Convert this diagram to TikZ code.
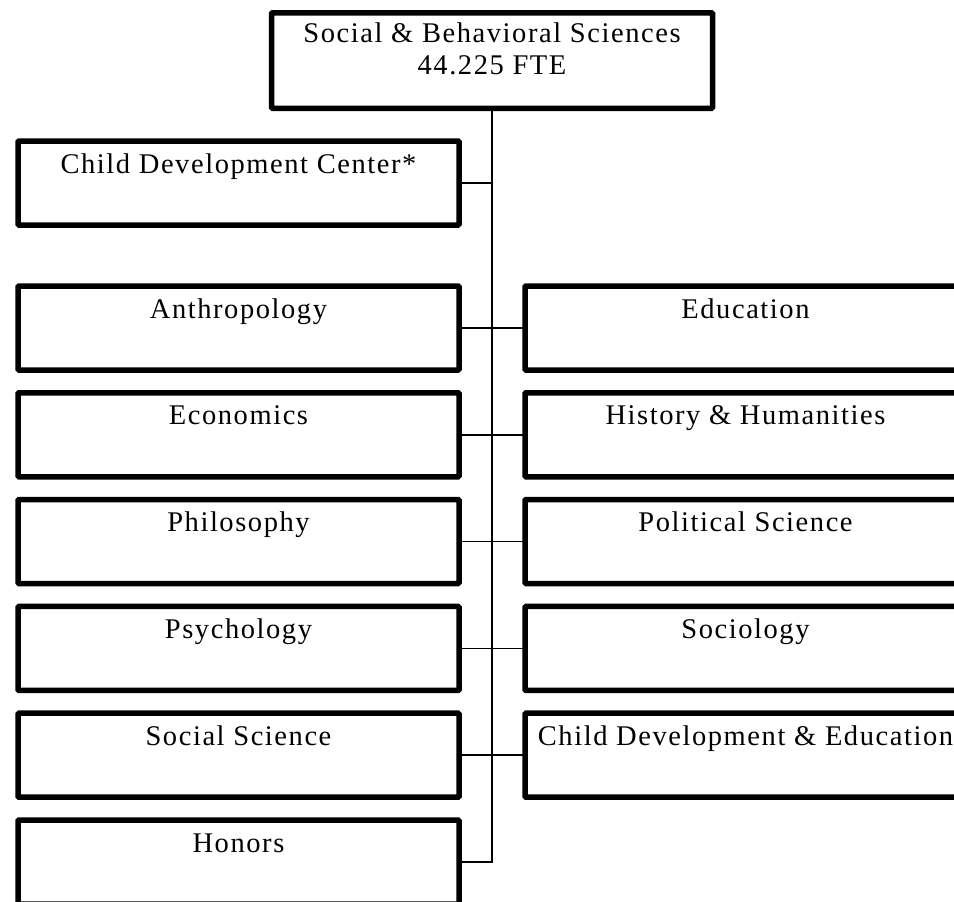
\documentclass[tikz,border=0pt]{standalone}
\usepackage{fontspec}
\setmainfont{Liberation Serif}[LetterSpace=5.5]
\usepackage{tikz}

\begin{document}
\begin{tikzpicture}[x=1pt, y=-1pt,
    unit/.style={draw, line width=5.5pt, rounded corners=1pt, inner sep=0pt, outer sep=0pt,
        minimum width=441pt, align=center, text height=32pt, text depth=52pt,
        font=\fontsize{28.5}{32}\selectfont},
    link/.style={line width=1.5pt}]
    \useasboundingbox (0,0) rectangle (954,902);
    \clip (0,0) rectangle (954,902);

    % dean's office
    \node[unit, anchor=north, text height=61.5pt, text depth=34pt] (sbs) at (492,12.75)
        {Social \& Behavioral Sciences\\44.225 FTE};
    \coordinate (trunk) at (492,862);

    \node[unit, anchor=north west] (cdc) at (18,141) {Child Development Center*};

    % left column
    \node[unit, anchor=north west] (anth) at (18,286) {Anthropology};
    \node[unit, anchor=north west] (econ) at (18,392.8) {Economics};
    \node[unit, anchor=north west] (phil) at (18,499.6) {Philosophy};
    \node[unit, anchor=north west] (psyc) at (18,606.4) {Psychology};
    \node[unit, anchor=north west] (socs) at (18,713.2) {Social Science};
    \node[unit, anchor=north west] (hon) at (18,820) {Honors};

    % right column
    \node[unit, anchor=north west] (educ) at (525,286) {Education};
    \node[unit, anchor=north west] (hist) at (525,392.8) {History \& Humanities};
    \node[unit, anchor=north west] (pols) at (525,499.6) {Political Science};
    \node[unit, anchor=north west] (soci) at (525,606.4) {Sociology};
    \node[unit, anchor=north west] (cded) at (525,713.2) {Child Development \& Education};

    \draw[link] (sbs.south) -- (trunk) -- (trunk -| hon.east);
    \draw[link] (cdc.east) -- (cdc.east -| sbs.south);
    \draw[link] (anth.east) -- (educ.west);
    \draw[link] (econ.east) -- (hist.west);
    \draw[link] (phil.east) -- (pols.west);
    \draw[link] (psyc.east) -- (soci.west);
    \draw[link] (socs.east) -- (cded.west);
\end{tikzpicture}
\end{document}
